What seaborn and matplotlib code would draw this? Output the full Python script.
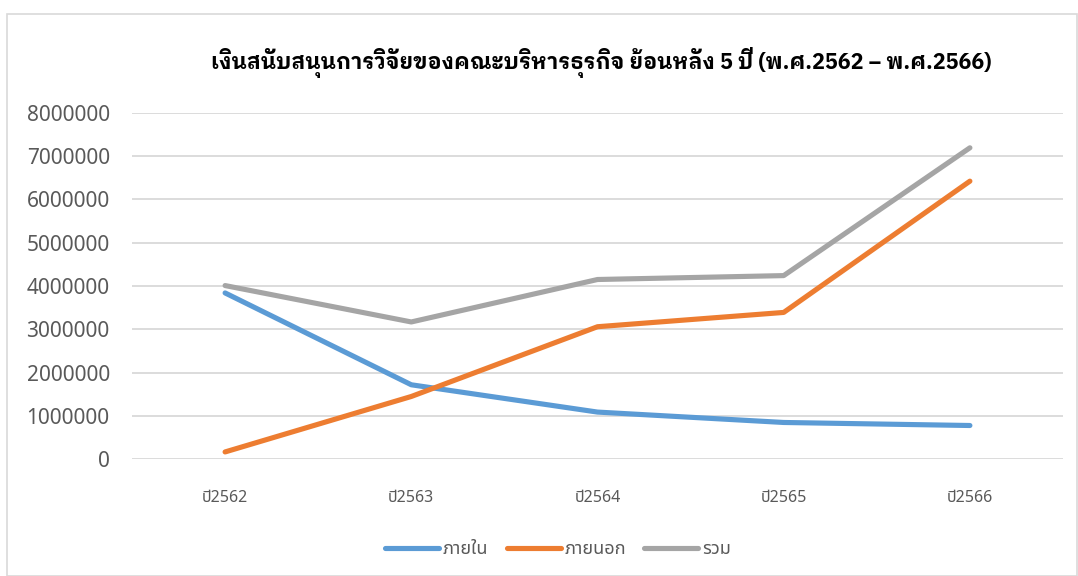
import matplotlib
matplotlib.use("Agg")
import matplotlib.pyplot as plt
import matplotlib.patches as mpatches
import pandas as pd
import seaborn as sns

years = ["ปี2562", "ปี2563", "ปี2564", "ปี2565", "ปี2566"]
internal = [3840000, 1720000, 1090000, 850000, 780000]
external = [170000, 1450000, 3060000, 3390000, 6420000]
total = [4010000, 3170000, 4150000, 4240000, 7190000]
series_names = ["ภายใน", "ภายนอก", "รวม"]
colors = ["#5B9BD5", "#ED7D31", "#A5A5A5"]
title = "เงินสนับสนุนการวิจัยของคณะบริหารธุรกิจ ย้อนหลัง 5 ปี (พ.ศ.2562 – พ.ศ.2566)"

df = pd.DataFrame({
    "year": years * 3,
    "value": internal + external + total,
    "series": [series_names[0]] * 5 + [series_names[1]] * 5 + [series_names[2]] * 5,
})

sns.set_theme(style="white")
plt.rcParams["font.family"] = ["Noto Sans", "Noto Sans Thai", "DejaVu Sans"]

fig = plt.figure(figsize=(10.78, 5.76), dpi=100)
# chart area border
fig.patches.append(mpatches.Rectangle((7 / 1078, 0), 1 - 7 / 1078 - 0.0005, 1 - 14 / 576,
                                      transform=fig.transFigure, fill=False,
                                      edgecolor="#D9D9D9", linewidth=1.2))

ax = fig.add_axes([132 / 1078, 1 - 459.3 / 576, (1063 - 132) / 1078, (459.3 - 112.7) / 576])
sns.lineplot(data=df, x="year", y="value", hue="series", palette=colors, sort=False,
             linewidth=3.7, ax=ax, legend=False, solid_capstyle="round")

ax.set_xlim(-0.5, 4.5)
ax.set_ylim(0, 8000000)
ax.set_yticks(range(0, 8000001, 1000000))
ax.set_yticklabels([str(v) for v in range(0, 8000001, 1000000)])
ax.yaxis.grid(True, color="#D9D9D9", linewidth=1.3)
ax.set_axisbelow(True)
for s in ax.spines.values():
    s.set_visible(False)
ax.tick_params(axis="y", length=0, pad=16, labelsize=15, labelcolor="#595959")
ax.tick_params(axis="x", length=0, pad=22, labelcolor="#595959")
for lbl in ax.get_xticklabels():
    lbl.set_fontfamily(["Noto Sans Thai", "DejaVu Sans"])
    lbl.set_fontsize(11.5)
    lbl.set_fontweight("light")
ax.set_xlabel("")
ax.set_ylabel("")

fig.text(601 / 1078, 1 - 62 / 576, title, ha="center", va="center", fontsize=15.5,
         fontweight="bold", color="#000000",
         family=["IBM Plex Sans Thai Looped", "Noto Sans Thai", "DejaVu Sans"])

handles = [plt.Line2D([0], [0], color=c, linewidth=3.7, solid_capstyle="round") for c in colors]
leg = fig.legend(handles, series_names, loc="center", bbox_to_anchor=(558 / 1078, 1 - 549 / 576),
                 ncol=3, frameon=False, handlelength=3.0, handletextpad=0.2, columnspacing=1.0,
                 prop={"family": ["Noto Sans Thai", "DejaVu Sans"], "size": 13, "weight": "light"})
for t in leg.get_texts():
    t.set_color("#595959")

fig.savefig("out.png", dpi=100)
